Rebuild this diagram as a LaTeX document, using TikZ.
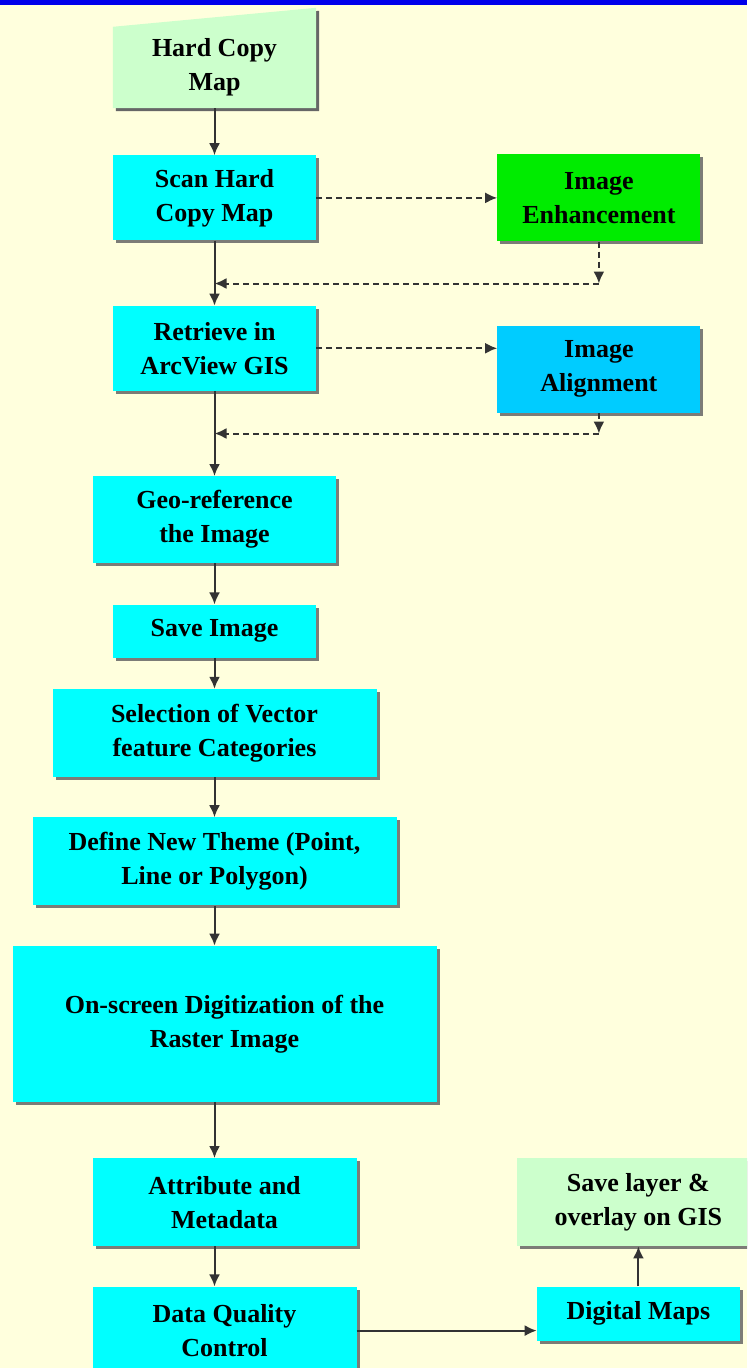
\documentclass[tikz,border=0pt]{standalone}
\usepackage{fontspec}
\setmainfont{Liberation Serif}
\usetikzlibrary{positioning,shadows,arrows.meta,calc,backgrounds}
\definecolor{paper}{RGB}{255,255,221}
\definecolor{topband}{RGB}{0,0,235}
\definecolor{procfill}{RGB}{0,255,255}
\definecolor{enhfill}{RGB}{0,236,0}
\definecolor{alignfill}{RGB}{0,204,255}
\definecolor{mapfill}{RGB}{204,255,204}
\definecolor{linegray}{RGB}{51,51,51}
\tikzset{node distance=40pt, auto,
  box/.style={rectangle, inner sep=0pt, minimum width=203pt, minimum height=85pt,
    align=center, font=\fontsize{26}{34}\selectfont\bfseries},
  proc/.style={box, fill=procfill,
    drop shadow={shadow xshift=3pt, shadow yshift=-3pt, fill=black!60, opacity=0.85}},
  flow/.style={draw=linegray, line width=2pt, -{Latex[length=12pt,width=11pt]}},
  side/.style={flow, dash pattern=on 6pt off 4pt}}

\begin{document}
\begin{tikzpicture}

              \useasboundingbox (0,0) rectangle (747pt,-1368pt);
              \clip (0,0) rectangle (747pt,-1368pt);

              \node (hard) [box, minimum height=81pt] at (214.5pt,-67.5pt) {Hard Copy\\Map};
              \node (scan) [proc, below=47pt of hard] {Scan Hard\\Copy Map};
              \node (enh) [proc, fill=enhfill, minimum height=87pt, right=181pt of scan] {Image\\Enhancement};
              \node (retr) [proc, below=65pt of scan] {Retrieve in\\ArcView GIS};
              \node (align) [proc, fill=alignfill, minimum height=87pt, right=181pt of retr, yshift=-21pt] {Image\\Alignment};
              \node (geo) [proc, minimum width=243pt, minimum height=87pt, below=85pt of retr] {Geo-reference\\the Image};
              \node (save) [proc, minimum height=53pt, below=41pt of geo] {Save Image};
              \node (sel) [proc, minimum width=324pt, minimum height=88pt, below=31pt of save] {Selection of Vector\\feature Categories};
              \node (theme) [proc, minimum width=364pt, minimum height=88pt, below=of sel] {Define New Theme (Point,\\Line or Polygon)};
              \node (digit) [proc, minimum width=424pt, minimum height=156pt, below=of theme, xshift=10pt] {On-screen Digitization of the\\Raster Image};
              \node (attr) [proc, minimum width=264pt, minimum height=88pt, below=56pt of digit] {Attribute and\\Metadata};
              \node (dqc) [proc, minimum width=264pt, minimum height=88pt, below=of attr] {Data Quality\\Control};
              \node (dig) [proc, minimum height=54pt, right=180pt of dqc, yshift=17pt] {Digital Maps};
              \node (layer) [proc, fill=mapfill, minimum width=243pt, minimum height=88pt, above=of dig] {Save layer \&\\overlay on GIS};

              \begin{scope}[on background layer]
                \fill [paper] (0,0) rectangle (747pt,-1368pt);
                \fill [topband] (0,0) rectangle (747pt,-5pt);
                \foreach \s/\c in {3pt/black!60, 0pt/mapfill}
                  \fill [\c] ([shift={(\s,-\s)}]hard.south west) -- ([shift={(\s,-\s)}]hard.south east)
                    -- ([shift={(\s,19pt-\s)}]hard.north east) -- ([shift={(\s,-\s)}]hard.north west) -- cycle;
              \end{scope}

              \coordinate (back1) at ($(scan.south)!0.66!(retr.north)$);
              \coordinate (turn1) at (enh.south |- back1);
              \coordinate (back2) at ($(retr.south)!0.5!(geo.north)$);
              \coordinate (turn2) at (align.south |- back2);

              \draw [flow] (hard) -- (scan);
              \draw [flow] (scan) -- (retr);
              \draw [flow] (retr) -- (geo);
              \draw [flow] (geo) -- (save);
              \draw [flow] (save) -- (sel);
              \draw [flow] (sel) -- (theme);
              \draw [flow] (theme.south) -- (theme.south |- digit.north);
              \draw [flow] (theme.south |- digit.south) -- (theme.south |- attr.north);
              \draw [flow] (theme.south |- attr.south) -- (theme.south |- dqc.north);
              \draw [flow] (dqc.east) -- (dqc.east -| dig.west);
              \draw [flow] (dig) -- (layer);

              \draw [side] (scan.east) -- (scan.east -| enh.west);
              \draw [side] (enh.south) -- (turn1);
              \draw [side] (turn1) -- (back1);
              \draw [side] (retr.east) -- (retr.east -| align.west);
              \draw [side] (align.south) -- (turn2);
              \draw [side] (turn2) -- (back2);
            \end{tikzpicture}
\end{document}
